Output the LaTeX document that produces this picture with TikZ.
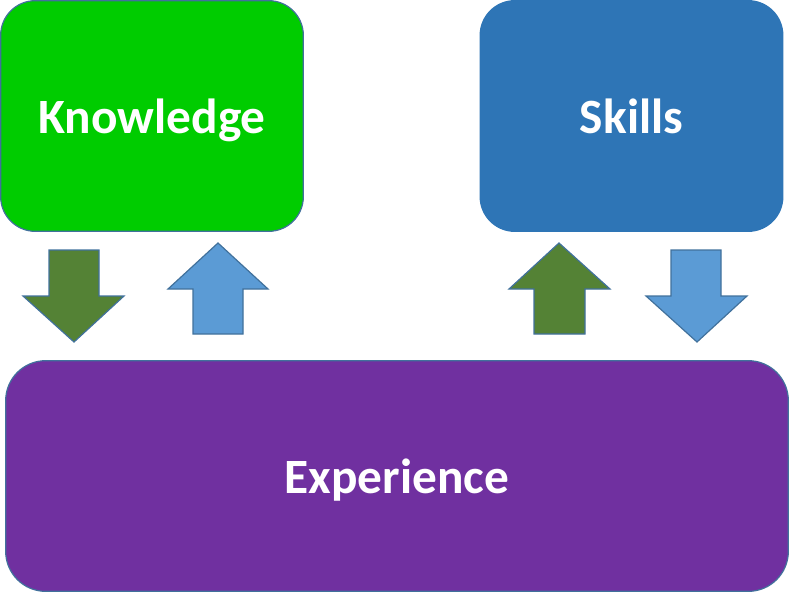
\documentclass[tikz,border=0pt]{standalone}
\usepackage{fontspec}
\setmainfont{Carlito}
\usepackage{tikz}
\usetikzlibrary{positioning}

\definecolor{knowgreen}{HTML}{00CC00}
\definecolor{skillblue}{HTML}{2E75B6}
\definecolor{exppurple}{HTML}{7030A0}
\definecolor{darkarrow}{HTML}{548235}
\definecolor{lightarrow}{HTML}{5B9BD5}
\definecolor{edgeblue}{HTML}{41719C}

\begin{document}
\begin{tikzpicture}[x=0.75pt,y=-0.75pt,
			box/.style={draw=edgeblue,line width=0.9pt,rounded corners=26pt,
				text=white,font=\fontsize{37}{42}\selectfont\bfseries,
				text depth=0pt,inner sep=0pt,outer sep=0pt},
			downarrow/.style={fill=darkarrow,draw=edgeblue,line width=0.9pt,line join=miter},
			uparrow/.style={fill=lightarrow,draw=edgeblue,line width=0.9pt,line join=miter}]
			\useasboundingbox (0,0) rectangle (789,593);
			
			\node[box,fill=knowgreen,minimum width=227pt,minimum height=173pt] (know) at (152,116) {Knowledge};
			\node[box,fill=skillblue,draw=skillblue,minimum width=227pt,minimum height=173pt] (skill) at (631.5,116) {Skills};
			\node[box,fill=exppurple,minimum width=587pt,minimum height=173pt,rounded corners=30pt] (exp) at (397,476) {Experience};
			
			% arrows between the boxes
			\draw[downarrow] (49,250) -- (99,250) -- (99,296) -- (124,296) -- (74,342) -- (23,296) -- (49,296) -- cycle;
			\draw[uparrow] (218,243) -- (268,289) -- (243,289) -- (243,334) -- (193,334) -- (193,289) -- (168,289) -- cycle;
			\draw[downarrow] (559,243) -- (610,289) -- (585,289) -- (585,334) -- (534,334) -- (534,289) -- (509,289) -- cycle;
			\draw[uparrow] (671,250) -- (721,250) -- (721,296) -- (747,296) -- (697,342) -- (646,296) -- (671,296) -- cycle;
		\end{tikzpicture}
\end{document}
